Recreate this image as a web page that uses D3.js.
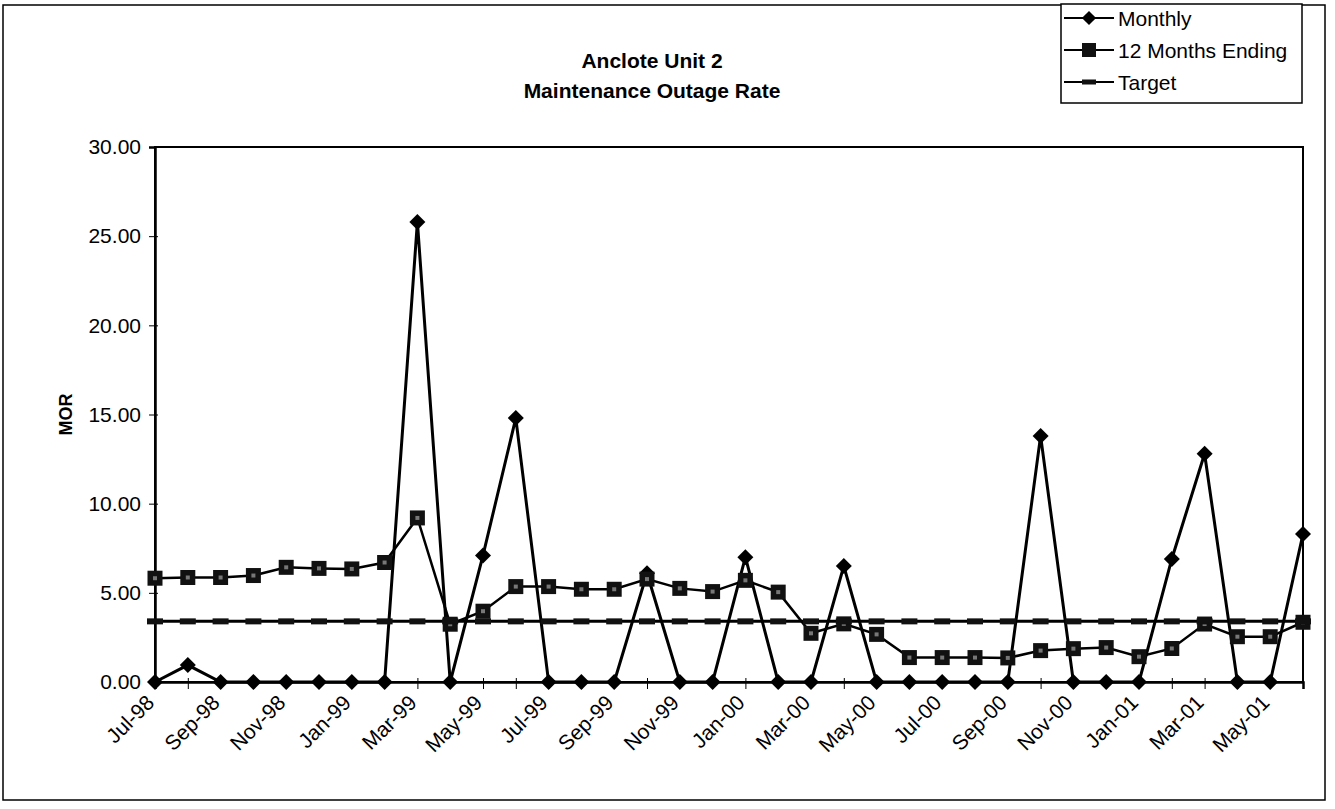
<!DOCTYPE html>
<html>
<head>
<meta charset="utf-8">
<script src="https://cdnjs.cloudflare.com/ajax/libs/d3/7.8.5/d3.min.js"></script>
<style>
  body { margin: 0; background: #fff; }
  svg { display: block; font-family: Arial, "Liberation Sans", sans-serif; }
</style>
</head>
<body>
<svg id="chart" width="1335" height="809"></svg>
<script>
// categories and series values
var months = ["Jul-98", "Aug-98", "Sep-98", "Oct-98", "Nov-98", "Dec-98",
  "Jan-99", "Feb-99", "Mar-99", "Apr-99", "May-99", "Jun-99",
  "Jul-99", "Aug-99", "Sep-99", "Oct-99", "Nov-99", "Dec-99",
  "Jan-00", "Feb-00", "Mar-00", "Apr-00", "May-00", "Jun-00",
  "Jul-00", "Aug-00", "Sep-00", "Oct-00", "Nov-00", "Dec-00",
  "Jan-01", "Feb-01", "Mar-01", "Apr-01", "May-01", "Jun-01"];
var monthly = [0, 0.95, 0, 0, 0, 0,
  0, 0, 25.8, 0, 7.1, 14.8,
  0, 0, 0, 6.1, 0, 0,
  7.0, 0, 0, 6.5, 0, 0,
  0, 0, 0, 13.8, 0, 0,
  0, 6.9, 12.8, 0, 0, 8.3];
var twelveMonth = [5.82, 5.86, 5.86, 5.97, 6.43, 6.37,
  6.34, 6.70, 9.2, 3.24, 3.97, 5.35,
  5.35, 5.2, 5.2, 5.77, 5.25, 5.07,
  5.7, 5.04, 2.73, 3.26, 2.67, 1.37,
  1.37, 1.37, 1.35, 1.76, 1.87, 1.93,
  1.42, 1.88, 3.25, 2.54, 2.54, 3.35];
var targetValue = 3.4;
var yTicks = [0, 5, 10, 15, 20, 25, 30];
var legendNames = ["Monthly", "12 Months Ending", "Target"];

//layout
var plot = { left: 155, right: 1303, top: 147, bottom: 682 };

var svg = d3.select('#chart');

// outer chart border
svg.append('rect')
  .attr('x', 3).attr('y', 5)
  .attr('width', 1322).attr('height', 795)
  .attr('fill', 'none').attr('stroke', '#000').attr('stroke-width', 1.5);

var x = d3.scalePoint().domain(months).range([plot.left, plot.right]);
var y = d3.scaleLinear().domain([0, 30]).range([plot.bottom, plot.top]);

// plot area frame
svg.append('rect')
  .attr('x', plot.left).attr('y', plot.top)
  .attr('width', plot.right - plot.left).attr('height', plot.bottom - plot.top)
  .attr('fill', 'none').attr('stroke', '#000').attr('stroke-width', 2);

// y axis
var yAxis = svg.append('g')
  .attr('transform', 'translate(' + plot.left + ',0)')
  .call(d3.axisLeft(y).tickValues(yTicks).tickFormat(d3.format('.2f')).tickSize(6).tickPadding(8));
yAxis.select('.domain').attr('stroke-width', 2.5);
yAxis.selectAll('.tick line').attr('x1', 3);
yAxis.selectAll('.tick text')
  .attr('font-size', 21).attr('font-family', 'Arial, "Liberation Sans", sans-serif').attr('fill', '#000');

// x axis
var xAxis = svg.append('g')
  .attr('transform', 'translate(0,' + plot.bottom + ')')
  .call(d3.axisBottom(x).tickSize(7).tickFormat(function (d, i) { return i % 2 ? '' : d; }));
xAxis.select('.domain').attr('stroke-width', 2.5);
xAxis.selectAll('.tick line').attr('y1', -4);
xAxis.selectAll('.tick text')
  .attr('font-size', 21).attr('font-family', 'Arial, "Liberation Sans", sans-serif').attr('fill', '#000')
  .attr('text-anchor', 'end')
  .attr('y', 0).attr('dy', 0)
  .attr('transform', 'translate(0,22) rotate(-45)');

// axis title
svg.append('text')
  .attr('transform', 'translate(72,' + ((plot.top + plot.bottom) / 2) + ') rotate(-90)')
  .attr('text-anchor', 'middle')
  .attr('font-size', 18).attr('font-weight', 'bold')
  .text('MOR');

// chart title
var title = svg.append('text')
  .attr('text-anchor', 'middle')
  .attr('font-size', 21).attr('font-weight', 'bold');
title.append('tspan').attr('x', 652).attr('y', 68).text('Anclote Unit 2');
title.append('tspan').attr('x', 652).attr('y', 98).text('Maintenance Outage Rate');

var line = d3.line()
  .x(function (d, i) { return x(months[i]); })
  .y(function (d) { return y(d); });

var targetSeries = months.map(function () { return targetValue; });

// monthly series
svg.append('path').datum(monthly)
  .attr('d', line).attr('fill', 'none').attr('stroke', '#000').attr('stroke-width', 3)
  .attr('stroke-linejoin', 'miter');
svg.append('g').selectAll('path').data(monthly).enter().append('path')
  .attr('d', d3.symbol(d3.symbolSquare, 128))
  .attr('transform', function (d, i) { return 'translate(' + x(months[i]) + ',' + y(d) + ') rotate(45)'; })
  .attr('fill', '#000');

// 12 months ending series
svg.append('path').datum(twelveMonth)
  .attr('d', line).attr('fill', 'none').attr('stroke', '#000').attr('stroke-width', 2.5);
var sq = svg.append('g').selectAll('g').data(twelveMonth).enter().append('g')
  .attr('transform', function (d, i) { return 'translate(' + x(months[i]) + ',' + y(d) + ')'; });
sq.append('path').attr('d', d3.symbol(d3.symbolSquare, 225)).attr('fill', '#111');
sq.append('path').attr('d', d3.symbol(d3.symbolSquare, 16)).attr('fill', '#777');

// target series
svg.append('path').datum(targetSeries)
  .attr('d', line).attr('fill', 'none').attr('stroke', '#000').attr('stroke-width', 3);
svg.append('g').selectAll('rect').data(targetSeries).enter().append('rect')
  .attr('x', function (d, i) { return x(months[i]) - 8; })
  .attr('y', function (d) { return y(d) - 3; })
  .attr('width', 16).attr('height', 6)
  .attr('fill', '#111');

// legend
var legend = svg.append('g').attr('transform', 'translate(1061,4)');
legend.append('rect')
  .attr('width', 241).attr('height', 99)
  .attr('fill', '#fff').attr('stroke', '#000').attr('stroke-width', 1.5);
var items = legend.selectAll('g.item').data(legendNames).enter().append('g')
  .attr('class', 'item')
  .attr('transform', function (d, i) { return 'translate(0,' + (14 + i * 32) + ')'; });
items.append('line')
  .attr('x1', 3).attr('x2', 53).attr('y1', 0).attr('y2', 0)
  .attr('stroke', '#000').attr('stroke-width', 2);
items.append('text')
  .attr('x', 57).attr('dy', '0.36em')
  .attr('font-size', 21)
  .text(function (d) { return d; });
items.filter(function (d, i) { return i === 0; }).append('path')
  .attr('d', d3.symbol(d3.symbolSquare, 100))
  .attr('transform', 'translate(28,0) rotate(45)');
items.filter(function (d, i) { return i === 1; }).append('path')
  .attr('d', d3.symbol(d3.symbolSquare, 196))
  .attr('transform', 'translate(28,0)').attr('fill', '#111');
items.filter(function (d, i) { return i === 2; }).append('rect')
  .attr('x', 21).attr('y', -2.5).attr('width', 14).attr('height', 5).attr('fill', '#111');
</script>
</body>
</html>
